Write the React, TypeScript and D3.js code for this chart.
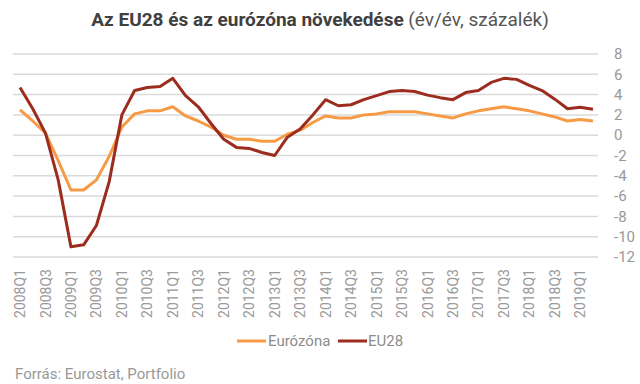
import React from 'react';
import * as d3 from 'd3';

// quarters 2008Q1 .. 2019Q2
const years = d3.range(2008, 2020);
const quarters: string[] = years
    .flatMap(y => [1, 2, 3, 4].map(q => `${y}Q${q}`))
    .slice(0, 46);

const euro = [
    2.5, 1.4, 0.2, -2.5, -5.4, -5.4, -4.4, -2.1, 0.8, 2.1, 2.4, 2.4,
    2.8, 1.9, 1.4, 0.8, 0.0, -0.4, -0.4, -0.6, -0.6, 0.1, 0.5, 1.25,
    1.9, 1.7, 1.7, 2.0, 2.1, 2.3, 2.3, 2.3, 2.1, 1.9, 1.7, 2.1,
    2.4, 2.6, 2.8, 2.6, 2.4, 2.1, 1.8, 1.4, 1.55, 1.4,
];

const eu28 = [
    4.7, 2.6, 0.2, -4.4, -11.0, -10.8, -8.9, -4.6, 2.0, 4.4, 4.7, 4.8,
    5.6, 3.9, 2.8, 1.15, -0.4, -1.2, -1.3, -1.7, -2.0, -0.2, 0.6, 2.0,
    3.5, 2.9, 3.0, 3.5, 3.9, 4.3, 4.4, 4.3, 3.95, 3.7, 3.5, 4.2,
    4.4, 5.2, 5.6, 5.5, 4.9, 4.4, 3.55, 2.6, 2.75, 2.55,
];

const yTicks = [-12, -10, -8, -6, -4, -2, 0, 2, 4, 6, 8];

const series = [
    { name: 'Eurózóna', values: euro, color: '#f79a45' },
    { name: 'EU28', values: eu28, color: '#9c2c1e' },
];

const font = 'Roboto, sans-serif';

function App() {
    const width = 640,
        height = 384;

    const x = d3.scalePoint<string>().domain(quarters).range([20, 593]);
    const y = d3.scaleLinear().domain([-12, 8]).range([257, 54]);

    const line = d3
        .line<number>()
        .x((d, i) => x(quarters[i]) as number)
        .y(d => y(d));

    return (
        <svg
            width={width}
            height={height}
            style={{ position: 'absolute', left: 0, top: 0, background: '#fff' }}
        >
            {/* title */}
            <text x={320} y={26} textAnchor="middle" fontFamily={font} fontSize={19} fill="#404040">
                <tspan fontWeight="bold">Az EU28 és az eurózóna növekedése</tspan>
                <tspan fill="#555"> (év/év, százalék)</tspan>
            </text>

            {/* grid + y labels */}
            {yTicks.map(t => (
                <g key={t} transform={`translate(0, ${y(t)})`}>
                    <line x1={13} x2={598} stroke="#dadada" strokeWidth={1.5} />
                    <text x={614} dy="0.35em" fontFamily={font} fontSize={15} fill="#999">
                        {t}
                    </text>
                </g>
            ))}

            {/* x labels, every second quarter */}
            {quarters
                .filter((q, i) => i % 2 === 0)
                .map(q => (
                    <text
                        key={q}
                        transform={`translate(${x(q)}, 269) rotate(-90)`}
                        dy="0.36em"
                        textAnchor="end"
                        fontFamily={font}
                        fontSize={14}
                        fill="#999"
                    >
                        {q}
                    </text>
                ))}

            {/* lines */}
            {series.map(s => (
                <path
                    key={s.name}
                    d={line(s.values) || ''}
                    fill="none"
                    stroke={s.color}
                    strokeWidth={3}
                    strokeLinejoin="round"
                />
            ))}

            {/* legend */}
            <g fontFamily={font} fontSize={15} fill="#8c8c8c">
                <line x1={237} x2={266} y1={341} y2={341} stroke={series[0].color} strokeWidth={3} />
                <text x={268} y={346}>{series[0].name}</text>
                <line x1={338} x2={367} y1={341} y2={341} stroke={series[1].color} strokeWidth={3} />
                <text x={368} y={346}>{series[1].name}</text>
            </g>

            {/* source */}
            <text x={15} y={379} fontFamily={font} fontSize={15} fill="#999">
                Forrás: Eurostat, Portfolio
            </text>
        </svg>
    );
}

export default App;
